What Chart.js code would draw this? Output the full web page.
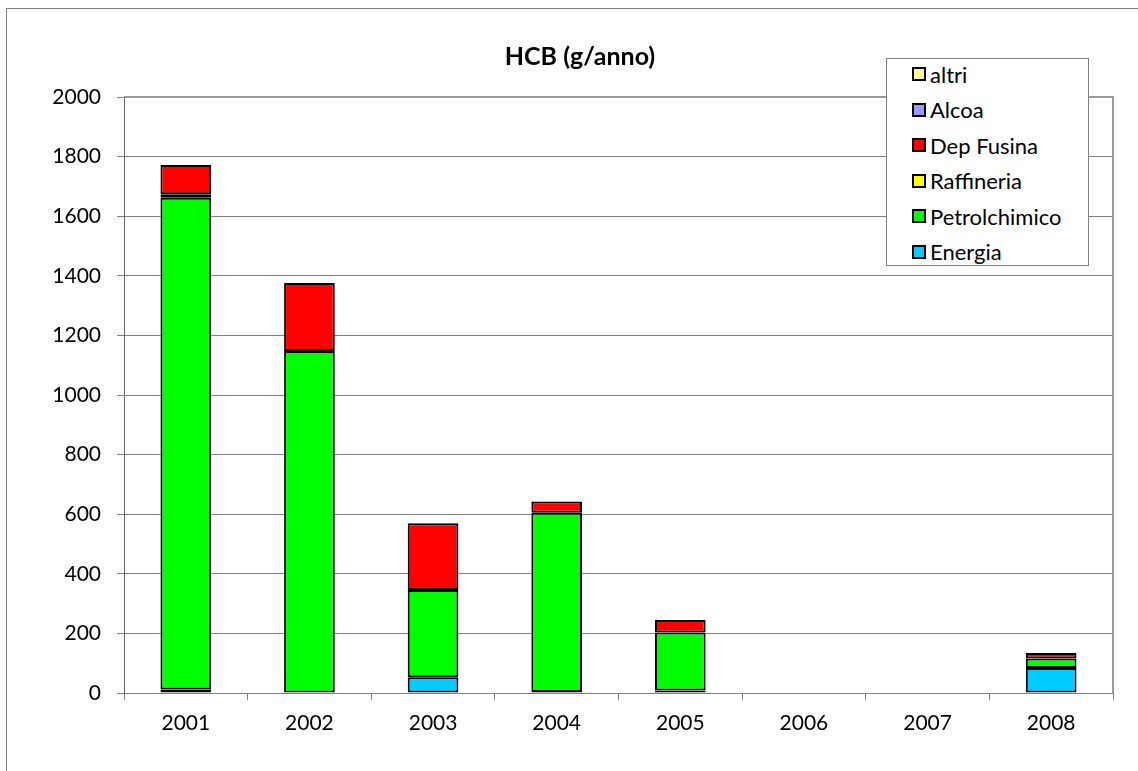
<!DOCTYPE html>
<html>
<head>
<meta charset="utf-8">
<script src="https://cdn.jsdelivr.net/npm/chart.js@4"></script>
<style>
  body { margin: 0; background: #fff; font-family: Lato, sans-serif; }
  #wrap { position: relative; width: 1138px; height: 771px; overflow: hidden; }
  #frame { position: absolute; left: 6px; top: 8px; width: 1200px; height: 800px;
           border-left: 1px solid #7f7f7f; border-top: 1px solid #7f7f7f; }
  #legend { position: absolute; left: 886px; top: 58px; width: 203px; height: 208px;
            border: 1px solid #808080; background: #fff; box-sizing: border-box; }
  .item { position: absolute; left: 25px; height: 26px; display: flex; align-items: center;
          font-size: 22px; color: #000; }
  .swatch { width: 10px; height: 10px; border: 2px solid #000; margin-right: 4px; }
</style>
</head>
<body>
<div id="wrap">
  <div id="frame"></div>
  <canvas id="chart" width="1138" height="771"></canvas>
  <div id="legend"></div>
</div>
<script>
const years = ['2001', '2002', '2003', '2004', '2005', '2006', '2007', '2008'];
const energia = [12, 0, 53, 3, 8, 0, 0, 84];
const petrolchimico = [1650, 1148, 293, 602, 195, 0, 0, 32];
const raffineria = [12, 0, 0, 0, 0, 0, 0, 0];
const depFusina = [98, 228, 224, 38, 42, 0, 0, 18];
const alcoa = [0, 0, 0, 0, 0, 0, 0, 0];
const altri = [0, 0, 0, 0, 0, 0, 0, 0];
const yTicks = [0, 200, 400, 600, 800, 1000, 1200, 1400, 1600, 1800, 2000];

const series = [
    { label: 'Energia', data: energia, color: '#00ccff' },
    { label: 'Petrolchimico', data: petrolchimico, color: '#00ff00' },
    { label: 'Raffineria', data: raffineria, color: '#ffff00' },
    { label: 'Dep Fusina', data: depFusina, color: '#ff0000' },
    { label: 'Alcoa', data: alcoa, color: '#9999ff' },
    { label: 'altri', data: altri, color: '#ffff99' }
];

const frameAndTitle = {
    id: 'frameAndTitle',
    afterDraw(chart) {
        const ctx = chart.ctx;
        const a = chart.chartArea;
        ctx.save();
        // plot area border (top and right)
        ctx.strokeStyle = '#999';
        ctx.lineWidth = 2;
        ctx.beginPath();
        ctx.moveTo(a.left, a.top);
        ctx.lineTo(a.right, a.top);
        ctx.lineTo(a.right, a.bottom);
        ctx.stroke();
        // title
        ctx.fillStyle = '#000';
        ctx.font = 'bold 25px Lato';
        ctx.textAlign = 'center';
        ctx.textBaseline = 'middle';
        ctx.fillText('HCB (g/anno)', 580, 57);
        ctx.restore();
    }
};

const chart = new Chart(document.getElementById('chart'), {
    type: 'bar',
    data: {
        labels: years,
        datasets: series.map(s => ({
            label: s.label,
            data: s.data,
            backgroundColor: s.color,
            borderColor: '#000',
            borderWidth: 2,
            borderSkipped: false,
            categoryPercentage: 1,
            barPercentage: 0.41
        }))
    },
    options: {
        responsive: false,
        animation: false,
        devicePixelRatio: 1,
        layout: { padding: { top: 97, right: 25, left: 0, bottom: 0 } },
        plugins: {
            legend: { display: false },
            tooltip: { enabled: false }
        },
        scales: {
            x: {
                stacked: true,
                afterFit: s => { s.height = 78; },
                grid: { offset: true, drawOnChartArea: false, tickLength: 7, color: '#808080' },
                border: { color: '#808080', width: 1 },
                ticks: { color: '#000', font: { family: 'Lato', size: 21 }, padding: 11 }
            },
            y: {
                stacked: true,
                min: 0,
                max: 2000,
                afterFit: s => { s.width = 124; },
                afterBuildTicks: s => { s.ticks = yTicks.map(v => ({ value: v })); },
                grid: { color: '#808080', tickLength: 7 },
                border: { color: '#666', width: 1 },
                ticks: {
                    color: '#000',
                    font: { family: 'Lato', size: 21 },
                    padding: 16,
                    callback: v => String(v)
                }
            }
        }
    },
    plugins: [frameAndTitle]
});

// legend box, listed top to bottom like the stack
const legend = document.getElementById('legend');
chart.data.datasets.slice().reverse().forEach((ds, i) => {
    const item = document.createElement('div');
    item.className = 'item';
    item.style.top = (2 + i * 35.5) + 'px';
    item.innerHTML = `<span class="swatch" style="background:${ds.backgroundColor}"></span>${ds.label}`;
    legend.appendChild(item);
});
</script>
</body>
</html>
